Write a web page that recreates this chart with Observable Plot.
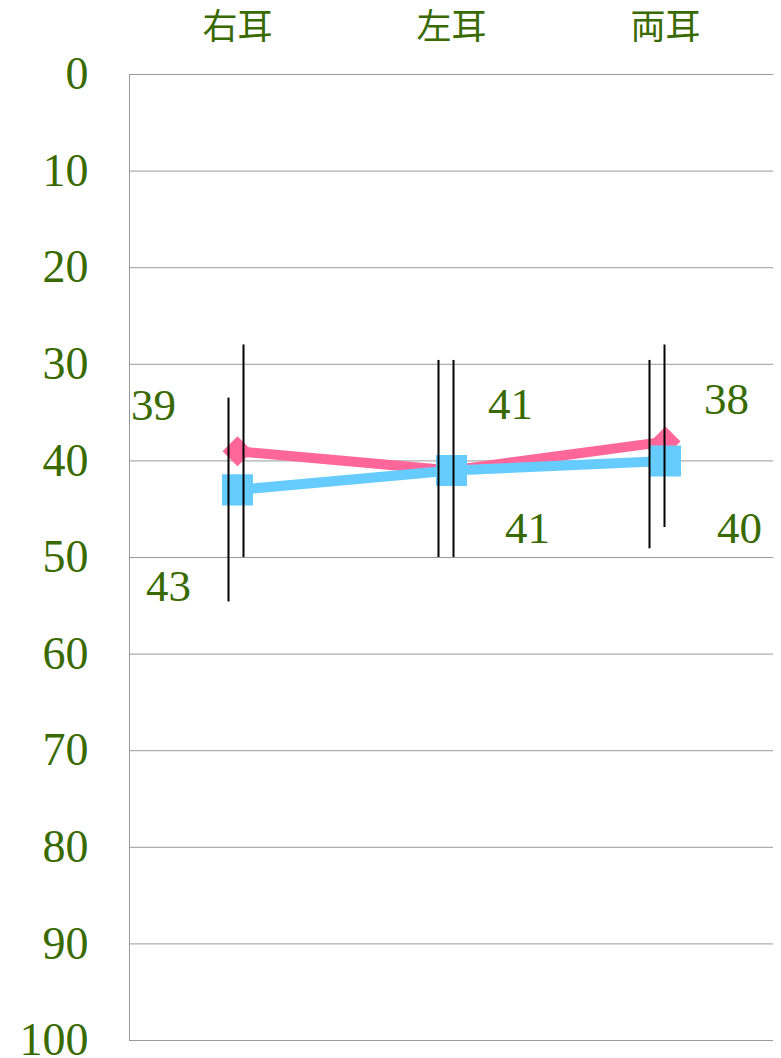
<!DOCTYPE html>
<html>
<head>
<meta charset="utf-8">
<script src="https://cdn.jsdelivr.net/npm/d3@7"></script>
<script src="https://cdn.jsdelivr.net/npm/@observablehq/plot@0.6"></script>
<style>
  html, body { margin: 0; padding: 0; background: #fff; }
  #chart svg { display: block; }
</style>
</head>
<body>
<div id="chart"></div>
<script>
// ---- data ----
const categories = ["右耳", "左耳", "両耳"];
const yTicks = [0, 10, 20, 30, 40, 50, 60, 70, 80, 90, 100];
const pinkValues = [39, 41, 38];
const blueValues = [43, 41, 40];
const pinkLow = [28, 29.6, 28];
const pinkHigh = [50, 50, 46.9];
const blueLow = [33.5, 29.6, 29.6];
const blueHigh = [54.6, 50, 49.1];

// ---- style config ----
const green = "#396a00";
const pinkColor = "#ff6699";
const blueColor = "#66ccff";
const pinkLabelOffsets = [[-84, -46], [59, -66], [61, -42]];
const blueLabelOffsets = [[-69, 97], [76, 58], [74, 68]];
const pinkErrDx = [6, 2, -1];
const blueErrDx = [-9, -13, -16];

const pink = categories.map((c, i) => ({cat: c, v: pinkValues[i], lo: pinkLow[i], hi: pinkHigh[i]}));
const blue = categories.map((c, i) => ({cat: c, v: blueValues[i], lo: blueLow[i], hi: blueHigh[i]}));

const serif = "'Liberation Serif', 'Times New Roman', serif";

function labelMarks(data, offsets) {
  return data.map((d, i) => Plot.text([d], {
    x: "cat", y: "v", text: d => String(d.v),
    dx: offsets[i][0], dy: offsets[i][1],
    fill: green, fontSize: 45, fontFamily: serif, textAnchor: "middle"
  }));
}
function errMarks(data, dxs) {
  return data.map((d, i) => Plot.ruleX([d], {
    x: "cat", y1: "lo", y2: "hi", dx: dxs[i], stroke: "#000", strokeWidth: 2
  }));
}

const leftLine = (index, scales, values, dims) => {
  const l = document.createElementNS("http://www.w3.org/2000/svg", "line");
  l.setAttribute("x1", dims.marginLeft + 0.5);
  l.setAttribute("x2", dims.marginLeft + 0.5);
  l.setAttribute("y1", dims.marginTop);
  l.setAttribute("y2", dims.height - dims.marginBottom);
  l.setAttribute("stroke", "#999");
  return l;
};

const chart = Plot.plot({
  width: 781,
  height: 1058,
  marginLeft: 129,
  marginRight: 8,
  marginTop: 74,
  marginBottom: 18,
  style: {background: "#fff"},
  x: {type: "band", domain: categories, padding: 0, label: null},
  y: {domain: [0, 100], reverse: true, label: null},
  marks: [
    Plot.gridY(yTicks, {stroke: "#999", strokeOpacity: 1, strokeWidth: 1}),
    leftLine,
    Plot.axisY({ticks: yTicks, tickSize: 0, tickPadding: 41, fontSize: 46, fontFamily: serif, fill: green, label: null}),
    Plot.axisX({anchor: "top", tickSize: 0, tickPadding: 36, fontSize: 35, fontFamily: "'Noto Sans CJK JP', sans-serif", fill: green, label: null}),
    Plot.line(pink, {x: "cat", y: "v", stroke: pinkColor, strokeWidth: 10}),
    Plot.dot(pink, {x: "cat", y: "v", symbol: "diamond2", r: 13.5, fill: pinkColor, stroke: null}),
    Plot.line(blue, {x: "cat", y: "v", stroke: blueColor, strokeWidth: 10}),
    Plot.dot(blue, {x: "cat", y: "v", symbol: "square", r: 17.5, fill: blueColor, stroke: null}),
    ...errMarks(blue, blueErrDx),
    ...errMarks(pink, pinkErrDx),
    ...labelMarks(pink, pinkLabelOffsets),
    ...labelMarks(blue, blueLabelOffsets)
  ]
});
document.getElementById("chart").appendChild(chart);
</script>
</body>
</html>
